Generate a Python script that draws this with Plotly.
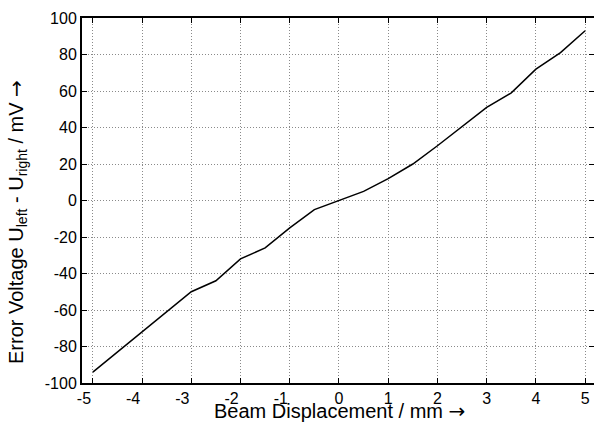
import plotly.graph_objects as go

displacement_mm = [-5.0, -4.5, -4.0, -3.5, -3.0, -2.5, -2.0, -1.5, -1.0, -0.5, 0.0,
                   0.5, 1.0, 1.5, 2.0, 2.5, 3.0, 3.5, 4.0, 4.5, 5.0]
error_voltage_mv = [-94, -83, -72, -61, -50, -44, -32, -26, -15, -5, 0,
                    5, 12, 20, 30, 40.5, 51, 59, 72, 81, 93]

x_ticks = [-5, -4, -3, -2, -1, 0, 1, 2, 3, 4, 5]
x_labels = ["-5", "-4", "-3", "-2", "-1", "0", "1", "2", "3", "4", "5"]
y_ticks = [-100, -80, -60, -40, -20, 0, 20, 40, 60, 80, 100]
y_labels = ["-100", "-80", "-60", "-40", "-20", "0", "20", "40", "60", "80", "100"]

fig = go.Figure()
fig.add_trace(go.Scatter(x=displacement_mm, y=error_voltage_mv, mode="lines",
                         line=dict(color="black", width=1.5), showlegend=False))

W, H = 594, 422
ml, mr, mt, mb = 82, 0, 18, 39
pw, ph = W - ml - mr, H - mt - mb

arrow = '<span style="font-family:DejaVu Sans">→</span>'
pad = "\u2007\u2007"  # negative labels sit left of their tick, as in the reference

fig.update_layout(
    width=W, height=H,
    margin=dict(l=ml, r=mr, t=mt, b=mb, autoexpand=False),
    plot_bgcolor="white", paper_bgcolor="white",
    font=dict(family="Liberation Sans, Arial, sans-serif", color="black", size=16),
)
fig.update_xaxes(
    range=[-5.22, 5.18], tickvals=x_ticks,
    ticktext=[t + pad if t.startswith("-") else t for t in x_labels],
    showline=True, linecolor="black", linewidth=2, mirror="ticks",
    ticks="inside", ticklen=5, tickcolor="black", automargin=False,
    ticklabelstandoff=0,
    showgrid=True, gridcolor="#8a8a8a", griddash="1px,2px", gridwidth=1,
    zeroline=False,
)
fig.update_yaxes(
    range=[-100, 100], tickvals=y_ticks, ticktext=y_labels,
    showline=True, linecolor="black", linewidth=2, mirror="ticks",
    ticks="inside", ticklen=5, tickcolor="black", automargin=False,
    showgrid=True, gridcolor="#8a8a8a", griddash="1px,2px", gridwidth=1,
    zeroline=False,
)

fig.add_annotation(text="Beam Displacement / mm " + arrow,
                   xref="paper", yref="paper",
                   x=(339 - ml) / pw, y=(H - mb - 411) / ph,
                   xanchor="center", yanchor="middle", showarrow=False,
                   font=dict(size=20))
fig.add_annotation(text="Error Voltage U<sub>left</sub> - U<sub>right</sub> / mV " + arrow,
                   xref="paper", yref="paper", textangle=-90,
                   x=(17 - ml) / pw, y=(H - mb - 222) / ph,
                   xanchor="center", yanchor="middle", showarrow=False,
                   font=dict(size=20))

fig.write_html("out.html", config={"displayModeBar": False},
               post_script="document.body.style.margin='0';")
